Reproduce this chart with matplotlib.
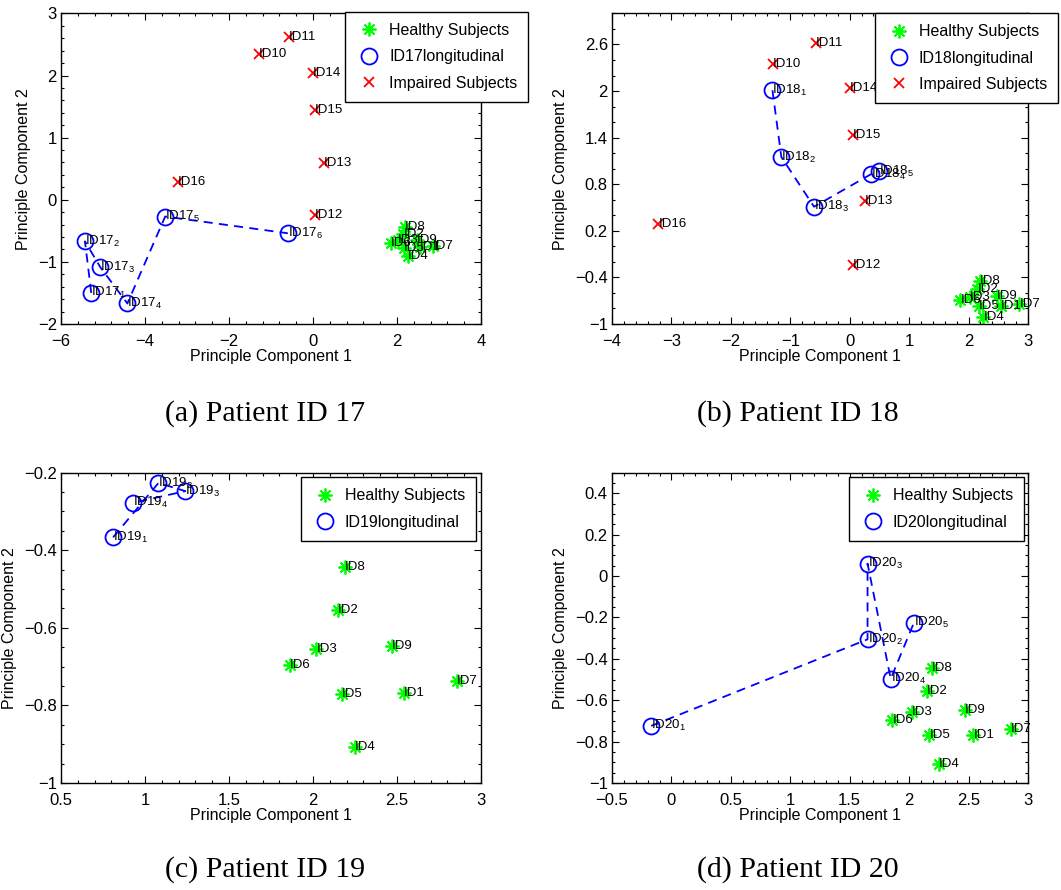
import matplotlib
matplotlib.use("Agg")
import matplotlib.pyplot as plt
from matplotlib.ticker import AutoMinorLocator, FuncFormatter, FixedLocator

plt.rcParams['font.family'] = ['Liberation Sans', 'DejaVu Sans']
plt.rcParams['mathtext.fontset'] = 'custom'
plt.rcParams['mathtext.rm'] = 'Liberation Sans'
plt.rcParams['mathtext.it'] = 'Liberation Sans'

# Healthy subjects ID1..ID9 in PCA space
healthy_ids = ['ID1', 'ID2', 'ID3', 'ID4', 'ID5', 'ID6', 'ID7', 'ID8', 'ID9']
healthy_x = [2.54, 2.15, 2.02, 2.25, 2.17, 1.86, 2.855, 2.19, 2.47]
healthy_y = [-0.767, -0.554, -0.655, -0.906, -0.770, -0.696, -0.737, -0.443, -0.646]

# Impaired subjects ID10..ID16
impaired_ids = ['ID10', 'ID11', 'ID12', 'ID13', 'ID14', 'ID15', 'ID16']
impaired_x = [-1.29, -0.57, 0.05, 0.25, 0.0, 0.05, -3.22]
impaired_y = [2.35, 2.62, -0.24, 0.59, 2.04, 1.44, 0.29]

# Longitudinal visits per patient
id17_x = [-5.28, -5.43, -5.06, -4.42, -3.52, -0.60]
id17_y = [-1.50, -0.67, -1.09, -1.67, -0.27, -0.54]
id18_x = [-1.30, -1.15, -0.60, 0.36, 0.50]
id18_y = [2.01, 1.15, 0.51, 0.93, 0.97]
id19_x = [0.81, 1.08, 1.24, 0.93]
id19_y = [-0.367, -0.227, -0.248, -0.278]
id20_x = [-0.17, 1.65, 1.65, 1.845, 2.04]
id20_y = [-0.724, -0.306, 0.06, -0.497, -0.226]

asterisk = (8, 2, 0)


def fmt(v, pos):
    return ('%g' % round(v, 6)).replace('-', '\u2212')


def panel(rect, pid, lx, ly, show_impaired, xlim, ylim, xticks, yticks,
          minors, leg_anchor, caption, cap_xy):
    ax = fig.add_axes(rect)
    ax.plot(healthy_x, healthy_y, linestyle='none', marker=asterisk, ms=10,
            mec='#00ff00', mew=1.3, label='Healthy Subjects')
    for name, x, y in zip(healthy_ids, healthy_x, healthy_y):
        ax.text(x, y, name, fontsize=9.5, ha='left', va='center')
    ax.plot(lx, ly, color='#0000ff', lw=1.3, dashes=(5, 3.5))
    ax.plot(lx, ly, linestyle='none', marker='o', ms=11.5, mfc='none',
            mec='#0000ff', mew=1.3, label='ID%dlongitudinal' % pid)
    for k, (x, y) in enumerate(zip(lx, ly)):
        ax.text(x, y, r'ID%d$_{\mathregular{%d}}$' % (pid, k + 1),
                fontsize=9.5, ha='left', va='center')
    if show_impaired:
        ax.plot(impaired_x, impaired_y, linestyle='none', marker='x', ms=7.5,
                mec='#ff0000', mew=1.3, label='Impaired Subjects')
        for name, x, y in zip(impaired_ids, impaired_x, impaired_y):
            ax.text(x, y, name, fontsize=9.5, ha='left', va='center')
    ax.set_xlim(*xlim)
    ax.set_ylim(*ylim)
    ax.xaxis.set_major_locator(FixedLocator(xticks))
    ax.yaxis.set_major_locator(FixedLocator(yticks))
    ax.xaxis.set_minor_locator(AutoMinorLocator(minors[0]))
    ax.yaxis.set_minor_locator(AutoMinorLocator(minors[1]))
    ax.xaxis.set_major_formatter(FuncFormatter(fmt))
    ax.yaxis.set_major_formatter(FuncFormatter(fmt))
    ax.tick_params(which='both', direction='in', top=True, right=True,
                   labelsize=12, width=0.8)
    ax.tick_params(which='major', length=5)
    ax.tick_params(which='minor', length=2.5)
    ax.tick_params(axis='x', pad=7)
    ax.tick_params(axis='y', pad=3)
    for s in ax.spines.values():
        s.set_linewidth(1.0)
    ax.set_xlabel('Principle Component 1', fontsize=11.5, labelpad=0)
    ax.set_ylabel('Principle Component 2', fontsize=11.5, labelpad=5)
    leg = ax.legend(loc='upper right', bbox_to_anchor=leg_anchor,
                    bbox_transform=fig.transFigure, fontsize=11.5,
                    fancybox=False, framealpha=1, edgecolor='black',
                    handlelength=1.6, handletextpad=0.45, labelspacing=0.71,
                    borderpad=0.7, borderaxespad=0)
    leg.get_frame().set_linewidth(1.0)
    fig.text(cap_xy[0], cap_xy[1], caption, family='Liberation Serif',
             fontsize=21.5, ha='center', va='center')
    return ax


fig = plt.figure(figsize=(10.61, 8.90), dpi=100)

panel([0.0575, 0.6360, 0.3959, 0.3489], 17, id17_x, id17_y, True,
      (-6, 4), (-2, 3), [-6, -4, -2, 0, 2, 4], [-2, -1, 0, 1, 2, 3], (5, 5),
      (0.4981, 0.9869), '(a) Patient ID 17', (0.250, 0.535))
panel([0.5768, 0.6360, 0.3921, 0.3489], 18, id18_x, id18_y, True,
      (-4, 3), (-1, 3), [-4, -3, -2, -1, 0, 1, 2, 3],
      [-1, -0.4, 0.2, 0.8, 1.4, 2, 2.6], (5, 3),
      (0.9972, 0.9854), '(b) Patient ID 18', (0.752, 0.535))
panel([0.0575, 0.1202, 0.3959, 0.3489], 19, id19_x, id19_y, False,
      (0.5, 3), (-1, -0.2), [0.5, 1, 1.5, 2, 2.5, 3],
      [-1, -0.8, -0.6, -0.4, -0.2], (5, 4),
      (0.4486, 0.4640), '(c) Patient ID 19', (0.250, 0.0225))
panel([0.5768, 0.1202, 0.3921, 0.3489], 20, id20_x, id20_y, False,
      (-0.5, 3), (-1, 0.5), [-0.5, 0, 0.5, 1, 1.5, 2, 2.5, 3],
      [-1, -0.8, -0.6, -0.4, -0.2, 0, 0.2, 0.4], (5, 4),
      (0.9651, 0.4640), '(d) Patient ID 20', (0.752, 0.0225))

fig.savefig('out.png', dpi=100)
